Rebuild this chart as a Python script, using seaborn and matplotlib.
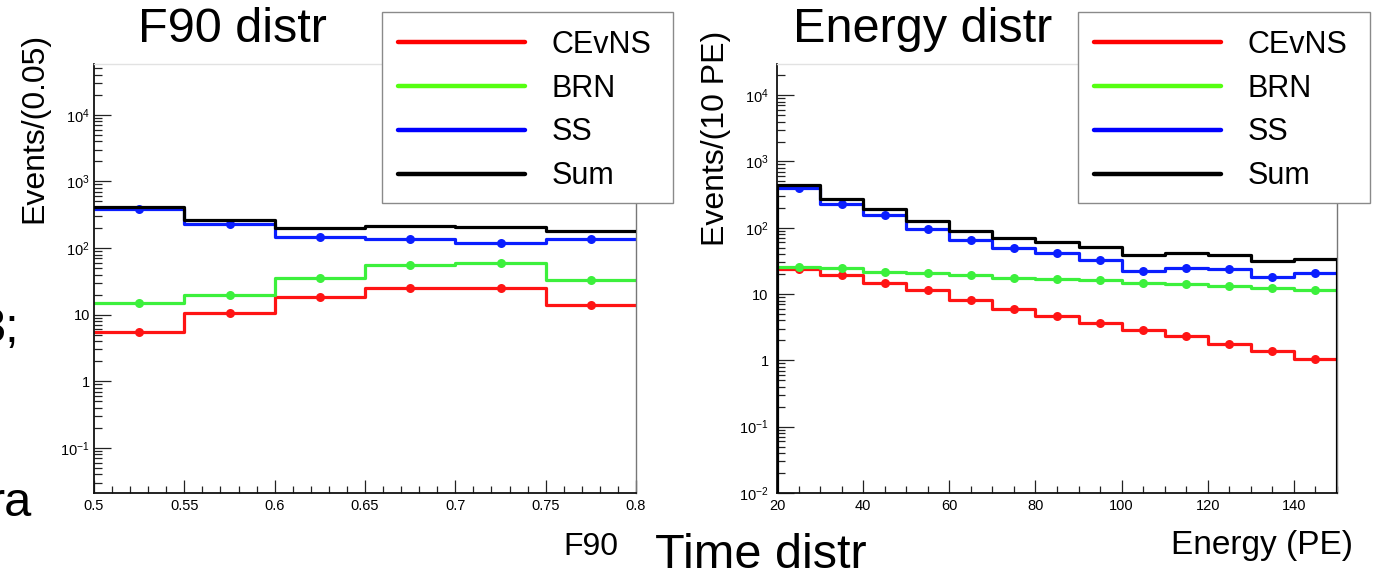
import numpy as np
import pandas as pd
import matplotlib
matplotlib.use("Agg")
import matplotlib.pyplot as plt
import seaborn as sns
from matplotlib.lines import Line2D
from matplotlib.patches import Rectangle
from matplotlib.ticker import FixedLocator, FixedFormatter, MultipleLocator, LogLocator, NullFormatter

# ---------------- data ----------------
series_names = ["CEvNS", "BRN", "SS", "Sum"]

f90_edges = [0.5, 0.55, 0.6, 0.65, 0.7, 0.75, 0.8]
f90_cevns = [5.4, 10.7, 18.6, 25.4, 25.0, 14.0]
f90_brn = [15, 20, 36, 56, 60, 33]
f90_ss = [385, 230, 146, 136, 119, 136]
f90_sum = [410, 263, 200, 213, 205, 182]

e_edges = [20, 30, 40, 50, 60, 70, 80, 90, 100, 110, 120, 130, 140, 150]
e_cevns = [23.6, 19.3, 14.6, 11.5, 8.1, 6.0, 4.7, 3.6, 2.9, 2.3, 1.78, 1.38, 1.05]
e_brn = [25.5, 24.6, 21.6, 20.5, 19.1, 17.6, 16.6, 16.2, 14.8, 14.1, 13.3, 12.3, 11.5]
e_ss = [400, 230, 157, 97, 66, 50, 41, 33, 22, 25, 24, 18.3, 21]
e_sum = [443, 273, 194, 127, 90, 71, 62, 52, 39, 42, 39, 32, 34]

f90_xticks = [0.5, 0.55, 0.6, 0.65, 0.7, 0.75, 0.8]
f90_xticklabels = ["0.5", "0.55", "0.6", "0.65", "0.7", "0.75", "0.8"]
e_xticks = [20, 40, 60, 80, 100, 120, 140]
e_xticklabels = ["20", "40", "60", "80", "100", "120", "140"]
left_yticks = [1e-1, 1, 10, 1e2, 1e3, 1e4]
left_yticklabels = [r"$\mathregular{10^{-1}}$", "1", "10", r"$\mathregular{10^{2}}$",
                    r"$\mathregular{10^{3}}$", r"$\mathregular{10^{4}}$"]
right_yticks = [1e-2, 1e-1, 1, 10, 1e2, 1e3, 1e4]
right_yticklabels = [r"$\mathregular{10^{-2}}$"] + left_yticklabels

# ---------------- style ----------------
sns.set_style("ticks")
plt.rcParams["font.family"] = ["Liberation Sans", "DejaVu Sans"]
plt.rcParams["mathtext.fontset"] = "custom"
plt.rcParams["mathtext.rm"] = "Liberation Sans"
plt.rcParams["mathtext.it"] = "Liberation Sans:italic"
plt.rcParams["mathtext.bf"] = "Liberation Sans:bold"
plt.rcParams["text.color"] = "black"
plt.rcParams["axes.labelcolor"] = "black"
plt.rcParams["xtick.color"] = "black"
plt.rcParams["ytick.color"] = "black"
plt.rcParams["xtick.labelcolor"] = "black"
plt.rcParams["ytick.labelcolor"] = "black"

line_colors = {"CEvNS": "#ff1414", "BRN": "#3cf03c", "SS": "#0a1eff", "Sum": "#000000"}
legend_colors = {"CEvNS": "#ff0000", "BRN": "#55ff11", "SS": "#0000ff", "Sum": "#000000"}

W, H = 1376, 570
fig = plt.figure(figsize=(W / 100, H / 100), dpi=100)
fig.patch.set_facecolor("white")

def fx(px):
    return px / W

def fy(py):
    return 1 - py / H

axL = fig.add_axes([fx(94), fy(493), fx(636) - fx(94), fy(64) - fy(493)])
axR = fig.add_axes([fx(777), fy(493), fx(1337) - fx(777), fy(64) - fy(493)])


def draw_panel(ax, edges, data):
    edges = np.asarray(edges, dtype=float)
    centers = (edges[:-1] + edges[1:]) / 2
    for name in series_names:
        vals = list(data[name])
        df = pd.DataFrame({"x": edges, "y": vals + [vals[-1]]})
        sns.lineplot(data=df, x="x", y="y", drawstyle="steps-post", color=line_colors[name],
                     lw=2.3, ax=ax, legend=False, zorder=3 if name == "Sum" else 2)
        if name != "Sum":
            sns.scatterplot(x=centers, y=vals, color=line_colors[name], s=42, linewidth=0,
                            ax=ax, legend=False, zorder=2.5)


draw_panel(axL, f90_edges, {"CEvNS": f90_cevns, "BRN": f90_brn, "SS": f90_ss, "Sum": f90_sum})
draw_panel(axR, e_edges, {"CEvNS": e_cevns, "BRN": e_brn, "SS": e_ss, "Sum": e_sum})

# outer edges of the sum histogram in the energy panel
axR.vlines([e_edges[0], e_edges[-1]], 0.01, [e_sum[0], e_sum[-1]], color="black", lw=2.3, zorder=3)


def style_axes(ax, xlim, ylim, xticks, xlabels, minor_x, yticks, ylabels, ypad):
    ax.set_yscale("log")
    ax.set_xlim(*xlim)
    ax.set_ylim(*ylim)
    ax.xaxis.set_major_locator(FixedLocator(xticks))
    ax.xaxis.set_major_formatter(FixedFormatter(xlabels))
    ax.xaxis.set_minor_locator(MultipleLocator(minor_x))
    ax.yaxis.set_major_locator(FixedLocator(yticks))
    ax.yaxis.set_major_formatter(FixedFormatter(ylabels))
    ax.yaxis.set_minor_locator(LogLocator(base=10, subs=np.arange(2, 10), numticks=30))
    ax.yaxis.set_minor_formatter(NullFormatter())
    ax.tick_params(axis="x", which="major", direction="in", length=9.5, width=0.9,
                   labelsize=10.5, pad=4, color="#222222", labelcolor="black")
    ax.tick_params(axis="x", which="minor", direction="in", length=5, width=0.9, color="#222222")
    ax.tick_params(axis="y", which="major", direction="in", length=12, width=0.9,
                   labelsize=10.5, pad=ypad, color="#222222", labelcolor="black")
    ax.tick_params(axis="y", which="minor", direction="in", length=6, width=0.9, color="#222222")
    ax.tick_params(top=False, right=False, which="both")
    for s in ["left", "bottom"]:
        ax.spines[s].set_color("#111111")
        ax.spines[s].set_linewidth(1.3)
    ax.spines["right"].set_color("#777777")
    ax.spines["right"].set_linewidth(1.0)
    ax.spines["top"].set_color("#e2e2e2")
    ax.spines["top"].set_linewidth(1.0)
    ax.set_facecolor("white")


style_axes(axL, (0.5, 0.8), (0.021, 58000), f90_xticks, f90_xticklabels, 0.01,
           left_yticks, left_yticklabels, 3)
style_axes(axR, (20, 150), (0.01, 29500), e_xticks, e_xticklabels, 5,
           right_yticks, right_yticklabels, 6)

# axis titles
axL.set_ylabel("Events/(0.05)", fontsize=23, rotation=90, ha="center", va="center",
               rotation_mode="default", color="black")
axL.yaxis.set_label_coords(fx(34), fy(128), transform=fig.transFigure)
axR.set_ylabel("Events/(10 PE)", fontsize=23, rotation=90, ha="center", va="center",
               rotation_mode="default", color="black")
axR.yaxis.set_label_coords(fx(716), fy(138), transform=fig.transFigure)

axL.set_xlabel("F90", fontsize=23, ha="right", va="baseline", color="black")
axL.xaxis.set_label_coords(fx(618), fy(555), transform=fig.transFigure)
axR.set_xlabel("Energy (PE)", fontsize=24, ha="right", va="baseline", color="black")
axR.xaxis.set_label_coords(fx(1353), fy(554), transform=fig.transFigure)

# slide titles and text fragments
fig.text(fx(138), fy(42), "F90 distr", fontsize=35, va="baseline", ha="left", color="black")
fig.text(fx(793), fy(42), "Energy distr", fontsize=35, va="baseline", ha="left", color="black")
fig.text(fx(655), fy(568), "Time distr", fontsize=35, va="baseline", ha="left", color="black")
fig.text(fx(19), fy(342), "3;", fontsize=35, va="baseline", ha="right", color="black")
fig.text(fx(-11), fy(516), "ra", fontsize=35, va="baseline", ha="left", color="black")

# legends
handles = [Line2D([], [], color=legend_colors[n], lw=3.2) for n in series_names]
for (bx0, bx1, hx) in [(382, 673, 398), (1078, 1370, 1094)]:
    fig.add_artist(Rectangle((fx(bx0), fy(203)), fx(bx1) - fx(bx0), fy(12) - fy(203),
                             transform=fig.transFigure, facecolor="white",
                             edgecolor="#8a8a8a", lw=1.0, zorder=4))
    leg = fig.legend(handles, series_names, loc="upper left",
                     bbox_to_anchor=(fx(hx), fy(30)), bbox_transform=fig.transFigure,
                     frameon=False, fontsize=22, handlelength=4.15, handletextpad=0.88,
                     labelspacing=0.45, borderpad=0, borderaxespad=0, labelcolor="black")
    leg.set_zorder(6)

fig.savefig("out.png", dpi=100, facecolor="white")
